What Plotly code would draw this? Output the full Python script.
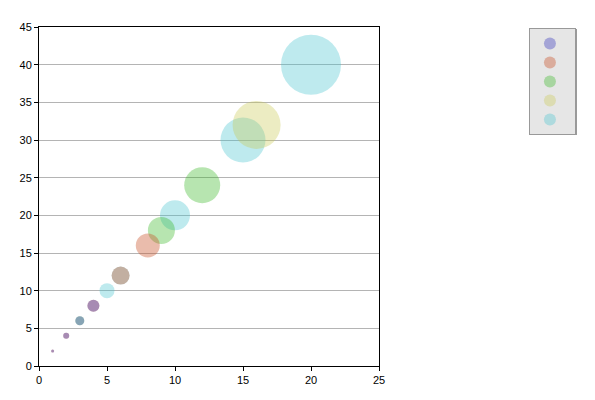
import plotly.graph_objects as go

# series data (x, y); bubble size equals y value
blue_x = [1, 2, 3, 4]
blue_y = [2, 4, 6, 8]
red_x = [1, 2, 4, 6, 8]
red_y = [2, 4, 8, 12, 16]
green_x = [3, 9, 12]
green_y = [6, 18, 24]
yellow_x = [16]
yellow_y = [32]
cyan_x = [5, 6, 10, 15, 20]
cyan_y = [10, 12, 20, 30, 40]

series = [
    ("cyan", cyan_x, cyan_y, "rgba(70,195,205,0.5)", 5),
    ("yellow", yellow_x, yellow_y, "rgba(200,200,80,0.5)", 4),
    ("green", green_x, green_y, "rgba(50,180,30,0.5)", 3),
    ("red", red_x, red_y, "rgba(200,80,40,0.55)", 2),
    ("blue", blue_x, blue_y, "rgba(60,60,190,0.55)", 1),
]

fig = go.Figure()
for name, xs, ys, col, rank in series:
    fig.add_trace(go.Scatter(
        x=xs, y=ys, mode="markers", name="", legendrank=rank,
        marker=dict(size=ys, sizemode="diameter", sizeref=1 / 1.5,
                    color=col, line=dict(width=0)),
        hoverinfo="x+y",
    ))

axis_common = dict(
    showline=True, linecolor="black", linewidth=1, mirror=True,
    ticks="outside", ticklen=4, tickcolor="black",
    tickfont=dict(family="Arial, Liberation Sans", size=11, color="black"),
    zeroline=False,
)
fig.update_xaxes(range=[0, 25], dtick=5, showgrid=False, **axis_common)
fig.update_yaxes(range=[0, 45], dtick=5, showgrid=True, gridcolor="#b4b4b4",
                 gridwidth=1, **axis_common)

# legend drop shadow
fig.add_shape(type="rect", xref="paper", yref="paper",
              x0=1.447, x1=1.582, y0=0.6814, y1=0.9941,
              fillcolor="#8c8c8c", line=dict(width=0), layer="above")

fig.update_layout(
    width=587, height=392,
    margin=dict(l=31, r=216, t=19, b=34),
    paper_bgcolor="white", plot_bgcolor="white",
    showlegend=True,
    legend=dict(x=1.441, y=0.997, xanchor="left", yanchor="top",
                bgcolor="#e6e6e6", bordercolor="#999999", borderwidth=1,
                itemsizing="constant", font=dict(size=10),
                itemwidth=30, tracegroupgap=0),
)

fig.write_html("out.html")
